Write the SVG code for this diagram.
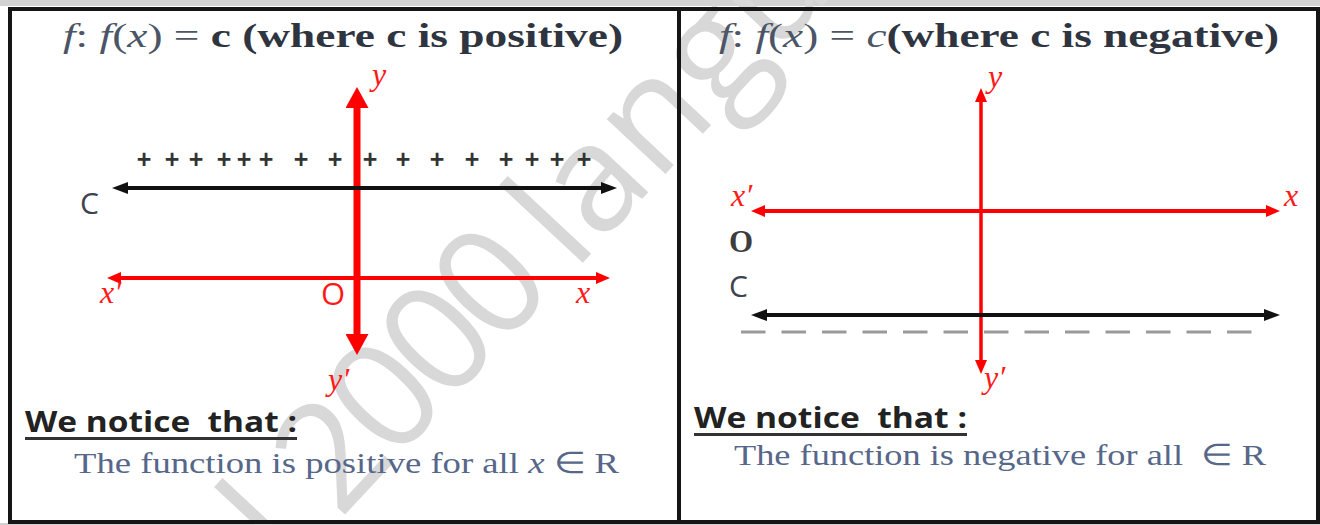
<svg xmlns="http://www.w3.org/2000/svg" width="1320" height="525" viewBox="0 0 1320 525">
<style>
.title{font-family:"Liberation Serif",serif;font-size:34px;fill:#2f3540}
.math{fill:#4b5566;font-weight:400}
.bold{font-weight:700}
.it{font-style:italic}
.lbl{font-family:"Liberation Serif",serif;font-style:italic;font-size:32px;fill:#ff1a1a}
.cap{font-family:"Open Sans",sans-serif;font-size:30px;fill:#3d4450}
.notice{font-family:"Open Sans",sans-serif;font-weight:700;font-size:28px;fill:#222;white-space:pre}
.sent{font-family:"Liberation Serif",serif;font-size:30px;fill:#56678a;white-space:pre}
.wm{font-family:"Open Sans",sans-serif;font-size:150px;font-weight:400;fill:#d8d8d8}
.ax{fill:none;stroke:#ff0000}
.bl{fill:none;stroke:#111;stroke-width:4}
</style>
<defs>
<marker id="headBig" viewBox="0 0 21 23" refX="11" refY="11.5" markerWidth="21" markerHeight="23" markerUnits="userSpaceOnUse" orient="auto-start-reverse"><path d="M0,0 L21,11.5 L0,23 Z" fill="#ff0000"/></marker>
<marker id="headRed" viewBox="0 0 14 12" refX="6" refY="6" markerWidth="14" markerHeight="12" markerUnits="userSpaceOnUse" orient="auto-start-reverse"><path d="M0,0 L14,6 L0,12 Z" fill="#ff0000"/></marker>
<marker id="headBlack" viewBox="0 0 16 12" refX="8" refY="6" markerWidth="16" markerHeight="12" markerUnits="userSpaceOnUse" orient="auto-start-reverse"><path d="M0,0 L16,6 L0,12 Z" fill="#111"/></marker>
</defs>
<rect width="1320" height="525" fill="#fff"/>
<rect x="0" y="0" width="1320" height="6" fill="#d2d2d2"/>
<rect x="0" y="523" width="1320" height="2" fill="#d2d2d2"/>

<g id="watermark" class="wm">
<text transform="translate(232,635) rotate(-47)">al</text>
<text transform="translate(340,520) rotate(-47)" letter-spacing="-8">2000</text>
<text transform="translate(574,272) rotate(-47)">langu</text>
</g>

<g id="frame">
<rect x="10" y="9" width="1308" height="513" fill="none" stroke="#151515" stroke-width="4"/>
<line x1="679" y1="9" x2="679" y2="522" stroke="#151515" stroke-width="4"/>
</g>

<g id="connectors">
<line class="ax" x1="357" y1="97" x2="357" y2="345" stroke-width="7" marker-start="url(#headBig)" marker-end="url(#headBig)"/>
<line class="ax" x1="115" y1="278" x2="602" y2="278" stroke-width="4" marker-start="url(#headRed)" marker-end="url(#headRed)"/>
<line class="bl" x1="120" y1="188" x2="609" y2="188" marker-start="url(#headBlack)" marker-end="url(#headBlack)"/>
<line class="ax" x1="759" y1="211" x2="1272" y2="211" stroke-width="4" marker-start="url(#headRed)" marker-end="url(#headRed)"/>
<line class="ax" x1="981" y1="96" x2="981" y2="366" stroke-width="3.5" marker-start="url(#headRed)" marker-end="url(#headRed)"/>
<line class="bl" x1="759" y1="315" x2="1272" y2="315" marker-start="url(#headBlack)" marker-end="url(#headBlack)"/>
<line x1="741" y1="332" x2="1252" y2="332" stroke="#9a9a9a" stroke-width="3" stroke-dasharray="24.5 16"/>
</g>

<g id="left-panel">
<text class="title" x="63" y="47" textLength="560" lengthAdjust="spacingAndGlyphs"><tspan class="math it">f</tspan><tspan class="math">: </tspan><tspan class="math it">f</tspan><tspan class="math">(</tspan><tspan class="math it">x</tspan><tspan class="math">) = </tspan><tspan class="bold">c (where c is positive)</tspan></text>
<text x="144 172 196 224 244 266 301 335 370 403 437 472 506 532 557 584" y="168" text-anchor="middle" font-family="Liberation Sans, sans-serif" font-size="25" font-weight="700" fill="#333">++++++++++++++++</text>
<text class="cap" x="80" y="214">C</text>
<text class="lbl" x="372" y="85">y</text>
<text class="lbl" x="328" y="390">y′</text>
<text class="lbl" x="100" y="303">x′</text>
<text x="321" y="305" font-family="Open Sans, sans-serif" font-size="31" fill="#ff1a1a">O</text>
<text class="lbl" x="576" y="303">x</text>
<text class="notice" x="25" y="432" textLength="272" lengthAdjust="spacingAndGlyphs">We notice  that :</text>
<line x1="25" y1="438.5" x2="297" y2="438.5" stroke="#333" stroke-width="3"/>
<text class="sent" x="74" y="473" textLength="545" lengthAdjust="spacingAndGlyphs">The function is positive for all <tspan class="it">x</tspan> ∈ R</text>
</g>

<g id="right-panel">
<text class="title" x="719" y="47" textLength="560" lengthAdjust="spacingAndGlyphs"><tspan class="math it">f</tspan><tspan class="math">: </tspan><tspan class="math it">f</tspan><tspan class="math">(</tspan><tspan class="math it">x</tspan><tspan class="math">) = </tspan><tspan class="math it">c</tspan><tspan class="bold">(where c is negative)</tspan></text>
<text class="lbl" x="988" y="87">y</text>
<text class="lbl" x="731" y="206">x′</text>
<text class="lbl" x="1284" y="206">x</text>
<text x="729" y="252" font-family="Liberation Serif, serif" font-weight="700" font-size="31" fill="#3d3d3d">O</text>
<text class="cap" x="729" y="297">C</text>
<text class="lbl" x="984" y="388">y′</text>
<text class="notice" x="694" y="428" textLength="273" lengthAdjust="spacingAndGlyphs">We notice  that :</text>
<line x1="694" y1="434.5" x2="967" y2="434.5" stroke="#333" stroke-width="3"/>
<text class="sent" x="734" y="465" textLength="532" lengthAdjust="spacingAndGlyphs">The function is negative for all  ∈ R</text>
</g>
</svg>
